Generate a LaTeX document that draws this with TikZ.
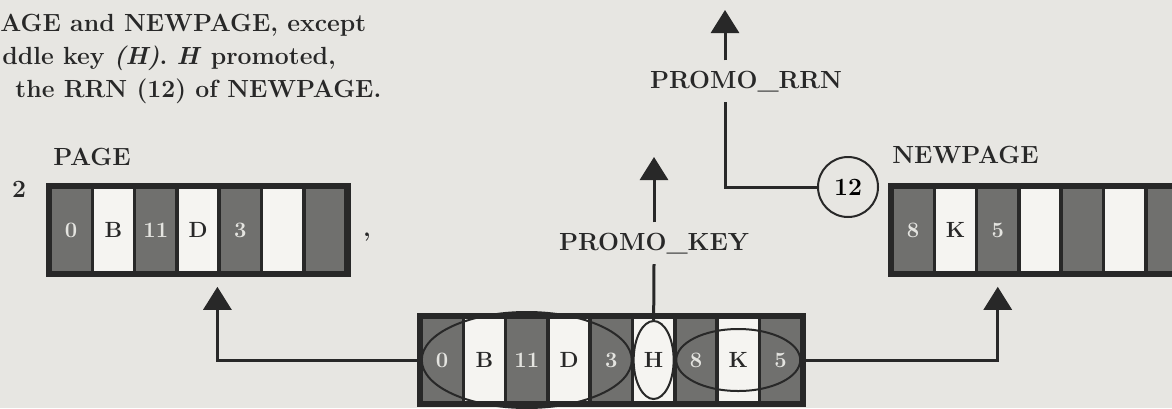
\documentclass[tikz,border=0pt]{standalone}
\usepackage{tikz}
\usetikzlibrary{arrows.meta, positioning, shapes.geometric}
\usepackage{xcolor}
\definecolor{paper}{RGB}{231,230,226}
\definecolor{blank}{RGB}{245,244,241}
\definecolor{shade}{RGB}{112,112,110}
\definecolor{ink}{RGB}{40,40,40}
\definecolor{pale}{RGB}{228,228,224}

\begin{document}
\begin{tikzpicture}[node distance=21.15pt,on grid,x=0.5pt,y=-0.5pt,font=\fontsize{12.4}{15}\selectfont\bfseries]
    \tikzstyle{keycell}=[shape=rectangle,draw=ink,line width=1.8pt,fill=blank,text=ink,minimum width=21.15pt,minimum height=43pt,inner sep=0pt,font=\fontsize{11}{13}\selectfont\bfseries]
    \tikzstyle{rrncell}=[keycell,fill=shade,text=pale]
    \tikzstyle{frame}=[draw=ink,line width=2.6pt]
    \tikzstyle{ring}=[shape=ellipse,draw=ink,line width=1pt,inner sep=0pt]
    \tikzstyle{heading}=[inner sep=0pt,text=ink]
    \tikzstyle{wire}=[draw=ink,line width=1.5pt]
    \tikzstyle{pointer}=[wire,-{Triangle[length=11.5pt,width=14pt]}]

    \useasboundingbox[fill=paper] (0,0) rectangle (1172,408);
    \clip (0,0) rectangle (1172,408);

    % text above the picture, cut at the left edge
    \node[heading,anchor=base west] (capA) at (0,31) {AGE and NEWPAGE, except};
    \node[heading,anchor=base west] (capB) at (2,64) {ddle key \textit{(H)}. \textit{H} promoted,};
    \node[heading,anchor=base west] (capC) at (15,97) {the RRN (12) of NEWPAGE.};

    % PAGE
    \node[heading,anchor=base west] (pagename) at (53,165) {PAGE};
    \node[heading] (pageno) at (19,189) {2};
    \node[rrncell] (pg1) at (71.15,230) {0};
    \node[keycell,right of=pg1] (pg2) {B};
    \node[rrncell,right of=pg2] (pg3) {11};
    \node[keycell,right of=pg3] (pg4) {D};
    \node[rrncell,right of=pg4] (pg5) {3};
    \node[keycell,right of=pg5] (pg6) {};
    \node[rrncell,right of=pg6] (pg7) {};
    \draw[frame] (pg1.north west) rectangle (pg7.south east);
    \node[heading,anchor=base] (mark) at (367,236) {,};

    % NEWPAGE
    \node[heading,anchor=base west] (newname) at (892,163) {NEWPAGE};
    \node[rrncell] (np1) at (913.15,230) {8};
    \node[keycell,right of=np1] (np2) {K};
    \node[rrncell,right of=np2] (np3) {5};
    \node[keycell,right of=np3] (np4) {};
    \node[rrncell,right of=np4] (np5) {};
    \node[keycell,right of=np5] (np6) {};
    \node[rrncell,right of=np6] (np7) {};
    \draw[frame] (np1.north west) rectangle (np7.south east);

    % overfull page
    \node[rrncell] (ov1) at (442.15,360) {0};
    \node[keycell,right of=ov1] (ov2) {B};
    \node[rrncell,right of=ov2] (ov3) {11};
    \node[keycell,right of=ov3] (ov4) {D};
    \node[rrncell,right of=ov4] (ov5) {3};
    \node[keycell,right of=ov5] (ov6) {H};
    \node[rrncell,right of=ov6] (ov7) {8};
    \node[keycell,right of=ov7] (ov8) {K};
    \node[rrncell,right of=ov8] (ov9) {5};
    \draw[frame] (ov1.north west) rectangle (ov9.south east);

    \node[ring,minimum width=105pt,minimum height=48pt] (leftring) at (ov3) {};
    \node[ring,minimum width=20pt,minimum height=39pt] (hring) at (ov6) {};
    \node[ring,minimum width=62pt,minimum height=31pt] (rightring) at (ov8) {};

    % promotion
    \node[heading,inner sep=5pt,anchor=base] (key) at (654,250) {PROMO\_KEY};
    \node[heading,inner sep=5pt,anchor=base] (rrn) at (746,88) {PROMO\_RRN};
    \node[shape=circle,draw=ink,line width=1pt,minimum size=30pt,inner sep=0pt] (rrnval) at (848,187) {12};
    \coordinate (keyout) at (654,157);
    \coordinate (rrnout) at (725,10);
    \coordinate (pagein) at ([yshift=-6pt]pg5.south west);
    \coordinate (newin) at ([yshift=-6pt]np3.south);

    \draw[wire] (hring.north) -- (key.south);
    \draw[pointer] (key.north) -- (keyout);
    \draw[wire] (rrnval.west) -| ([xshift=-10.5pt]rrn.south);
    \draw[pointer] ([xshift=-10.5pt]rrn.north) -- (rrnout);
    \draw[pointer] (ov1.west) -| (pagein);
    \draw[pointer] (ov9.east) -| (newin);
\end{tikzpicture}
\end{document}
